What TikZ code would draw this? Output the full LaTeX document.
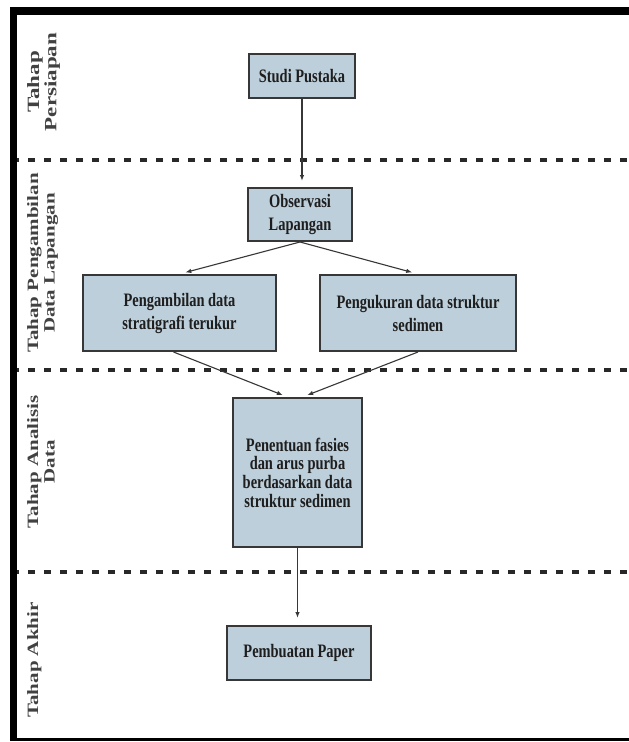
\documentclass[tikz,border=0pt]{standalone}
\usepackage{fontspec}
\setmainfont{Liberation Serif}
\newfontfamily\boxfont{Liberation Serif}[FakeStretch=0.76]
\usetikzlibrary{arrows.meta}
\definecolor{boxfill}{RGB}{189,207,219}
\definecolor{boxline}{RGB}{55,55,55}
\definecolor{txtcol}{RGB}{30,30,30}
\definecolor{lblcol}{RGB}{65,65,65}
\definecolor{dashcol}{RGB}{40,40,40}
\begin{document}
\begin{tikzpicture}[x=1pt,y=-1pt,
  box/.style={draw=boxline, line width=2pt, fill=boxfill, inner sep=0pt, align=center,
    font=\boxfont\bfseries\fontsize{19}{23}\selectfont, text=txtcol},
  arr/.style={-{Latex[length=6pt,width=4.5pt]}, line width=1.1pt, draw=boxline, shorten >=6pt},
  sep/.style={draw=dashcol, line width=4pt, dash pattern=on 7pt off 9pt},
  labeltext/.style={font=\bfseries\fontsize{21}{22}\selectfont, text=lblcol, align=center,
    inner sep=0pt, rotate=90, anchor=north, transform shape},
  frame/.style={fill=black, draw=none}]
\useasboundingbox (0,0) rectangle (629,742);
\fill[white] (0,0) rectangle (629,742);
% separators
\draw[sep] (12,160) -- (629,160);
\draw[sep] (12,370) -- (629,370);
\draw[sep] (12,572) -- (629,572);
% frame
\path[frame] (10,7) rectangle (629,15);
\path[frame] (10,7) rectangle (17,741);
\path[frame] (10,738) rectangle (629,741);
% boxes
\node[box, minimum width=106pt, minimum height=44pt] (sp) at (302,76) {Studi Pustaka};
\node[box, minimum width=104pt, minimum height=53pt] (ob) at (300,214.5) {Observasi\\Lapangan};
\node[box, minimum width=193pt, minimum height=76pt] (pa) at (179.5,313) {Pengambilan data\\stratigrafi terukur};
\node[box, minimum width=196pt, minimum height=76pt] (pu) at (418,313) {Pengukuran data struktur\\sedimen};
\node[box, minimum width=129pt, minimum height=149pt,
  font=\boxfont\bfseries\fontsize{19}{18.7}\selectfont] (pe) at (297.5,472.5)
  {Penentuan fasies\\dan arus purba\\berdasarkan data\\struktur sedimen};
\node[box, minimum width=144pt, minimum height=54pt] (pb) at (299,653) {Pembuatan Paper};
% arrows
\draw[arr] (sp.south) -- (sp.south |- ob.north);
\draw[arr] (ob.south) -- (pa.north);
\draw[arr] (ob.south) -- (pu.north);
\draw[arr, shorten >=5pt] ([xshift=-6pt]pa.south) -- ([xshift=-10pt]pe.north);
\draw[arr, shorten >=5pt] (pu.south) -- ([xshift=5pt]pe.north);
\draw[arr, shorten >=7pt] (pe.south) -- (pe.south |- pb.north);
% phase labels
\begin{scope}[shift={(27,82)}, xscale=0.75]
\node[labeltext, font=\bfseries\fontsize{23}{23}\selectfont] (l1) {Tahap\\Persiapan};
\end{scope}
\begin{scope}[shift={(27,263)}, xscale=0.75]
\node[labeltext] (l2) {Tahap Pengambilan\\Data Lapangan};
\end{scope}
\begin{scope}[shift={(27,462)}, xscale=0.75]
\node[labeltext] (l3) {Tahap Analisis\\Data};
\end{scope}
\begin{scope}[shift={(27,660)}, xscale=0.75]
\node[labeltext] (l4) {Tahap Akhir};
\end{scope}
\end{tikzpicture}
\end{document}
